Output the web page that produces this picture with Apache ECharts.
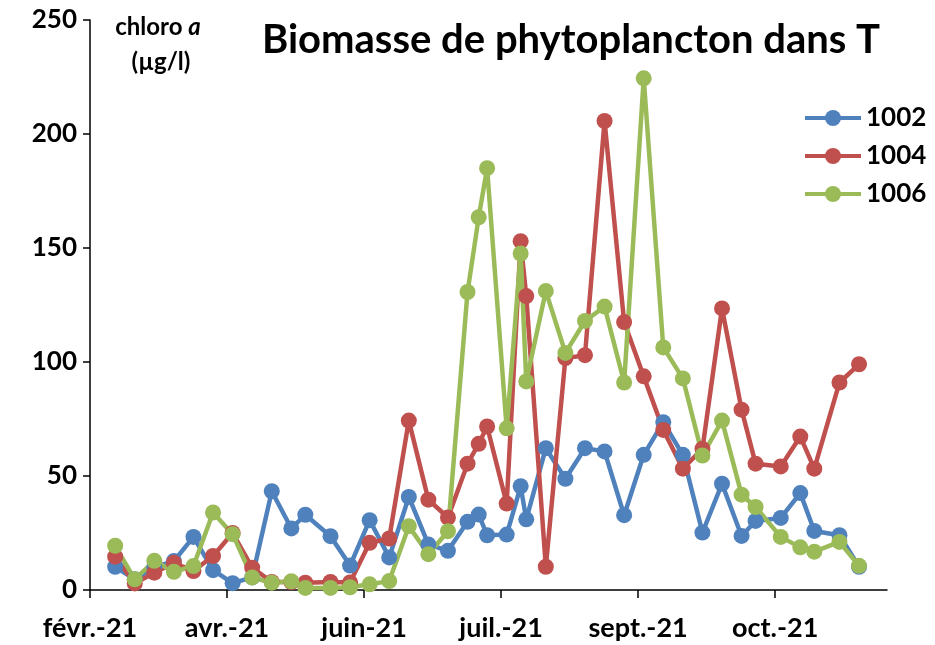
<!DOCTYPE html>
<html>
<head>
<meta charset="utf-8">
<script src="https://cdn.jsdelivr.net/npm/echarts@6/dist/echarts.min.js"></script>
<style>
  html, body { margin: 0; padding: 0; background: #fff; }
  #chart { width: 935px; height: 645px; }
</style>
</head>
<body>
<div id="chart"></div>
<script>
// jours depuis le début de l'axe (une graduation toutes les 7 semaines)
var days = [9, 16, 23, 30, 37, 44, 51, 58, 65, 72, 77, 86, 93, 100, 107, 114, 121, 128, 135, 139, 142,
  149, 154, 156, 163, 170, 177, 184, 191, 198, 205, 212, 219, 226, 233, 238, 247, 254, 259, 268, 275];
var tickDays = [0, 49, 98, 147, 196, 245];
var tickLabels = ['févr.-21', 'avr.-21', 'juin-21', 'juil.-21', 'sept.-21', 'oct.-21'];

var s1002 = [10.2, 4.7, 10, 12.7, 23.3, 8.7, 3.0, 5.5, 43.3, 27, 33, 23.6, 10.7, 30.6, 14.3, 40.8, 20, 17.2, 29.9, 33.1, 24,
  24.3, 45.5, 31, 62.2, 48.8, 62.2, 60.8, 32.8, 59.3, 73.6, 59.3, 25.2, 46.6, 23.7, 30.3, 31.6, 42.5, 25.9, 24, 10.2];
var s1004 = [14.6, 2.9, 7.6, 11.9, 8.3, 14.9, 25, 9.8, 3.5, 3.5, 3.2, 3.5, 3.3, 20.7, 22.6, 74.3, 39.6, 31.8, 55.4, 64.1, 71.7,
  37.9, 153, 128.9, 10.2, 101.7, 103, 205.7, 117.5, 93.7, 70.2, 53.2, 61.9, 123.5, 79.1, 55.4, 54.2, 67.3, 53.2, 91, 99];
var s1006 = [19.4, 4.7, 12.8, 8.0, 10.5, 34, 24.5, 5.5, 3.2, 3.8, 0.9, 0.9, 1.2, 2.5, 3.9, 28, 15.7, 25.8, 130.7, 163.5, 185,
  70.9, 147.6, 91.5, 131.1, 104, 118, 124.3, 91, 224.4, 106.4, 92.8, 59, 74.3, 41.8, 36.4, 23.3, 18.7, 16.8, 21.1, 10.6];

var seriesNames = ['1002', '1004', '1006'];
var colors = ['#4F81BD', '#C0504D', '#9BBB59'];
var FONT = 'Lato';

function pairs(vals) {
  return days.map(function (d, i) { return [d, vals[i]]; });
}

var chart = echarts.init(document.getElementById('chart'));

var series = [s1002, s1004, s1006].map(function (vals, k) {
  return {
    name: seriesNames[k],
    type: 'line',
    data: pairs(vals),
    symbol: 'circle',
    symbolSize: 16,
    lineStyle: { width: 4.5, color: colors[k] },
    itemStyle: { color: colors[k] },
    animation: false
  };
});

var option = {
  color: colors,
  animation: false,
  grid: { left: 90, right: 48, top: 20, bottom: 55 },
  legend: {
    orient: 'vertical',
    left: 798,
    top: 100,
    itemWidth: 56,
    itemHeight: 20,
    itemGap: 12,
    lineStyle: { width: 4 },
    textStyle: { fontFamily: FONT, fontWeight: 'bold', fontSize: 26, color: '#000' },
    data: seriesNames
  },
  xAxis: {
    type: 'value',
    min: 0,
    max: 285,
    splitLine: { show: false },
    axisLine: { onZero: false, lineStyle: { color: '#000', width: 1.5 } },
    axisTick: { show: true, length: 8, customValues: tickDays, lineStyle: { color: '#000', width: 1.5 } },
    axisLabel: {
      customValues: tickDays,
      margin: 25,
      fontFamily: FONT, fontWeight: 'bold', fontSize: 27, color: '#000',
      formatter: function (v) {
        var i = tickDays.indexOf(v);
        return i >= 0 ? tickLabels[i] : '';
      }
    }
  },
  yAxis: {
    type: 'value',
    min: 0,
    max: 250,
    interval: 50,
    splitLine: { show: false },
    axisLine: { show: true, lineStyle: { color: '#000', width: 1.5 } },
    axisTick: { show: true, length: 7, lineStyle: { color: '#000', width: 1.5 } },
    axisLabel: { margin: 13, fontFamily: FONT, fontWeight: 'bold', fontSize: 26, color: '#000' }
  },
  graphic: [
    {
      type: 'text',
      style: {
        text: 'Biomasse de phytoplancton dans T',
        x: 571, y: 40, textAlign: 'center', textVerticalAlign: 'middle',
        font: 'bold 40px ' + FONT, fill: '#000'
      }
    },
    {
      type: 'text',
      style: {
        x: 158, y: 27, textAlign: 'center', textVerticalAlign: 'middle',
        text: '{n|chloro }{i|a}',
        rich: {
          n: { fontFamily: FONT, fontWeight: 'bold', fontSize: 24, fill: '#000' },
          i: { fontFamily: FONT, fontWeight: 'bold', fontStyle: 'italic', fontSize: 24, fill: '#000' }
        }
      }
    },
    {
      type: 'text',
      style: {
        x: 161, y: 62, textAlign: 'center', textVerticalAlign: 'middle',
        text: '(µg/l)', font: 'bold 24px ' + FONT, fill: '#000'
      }
    }
  ],
  series: series
};

chart.setOption(option);
</script>
</body>
</html>
